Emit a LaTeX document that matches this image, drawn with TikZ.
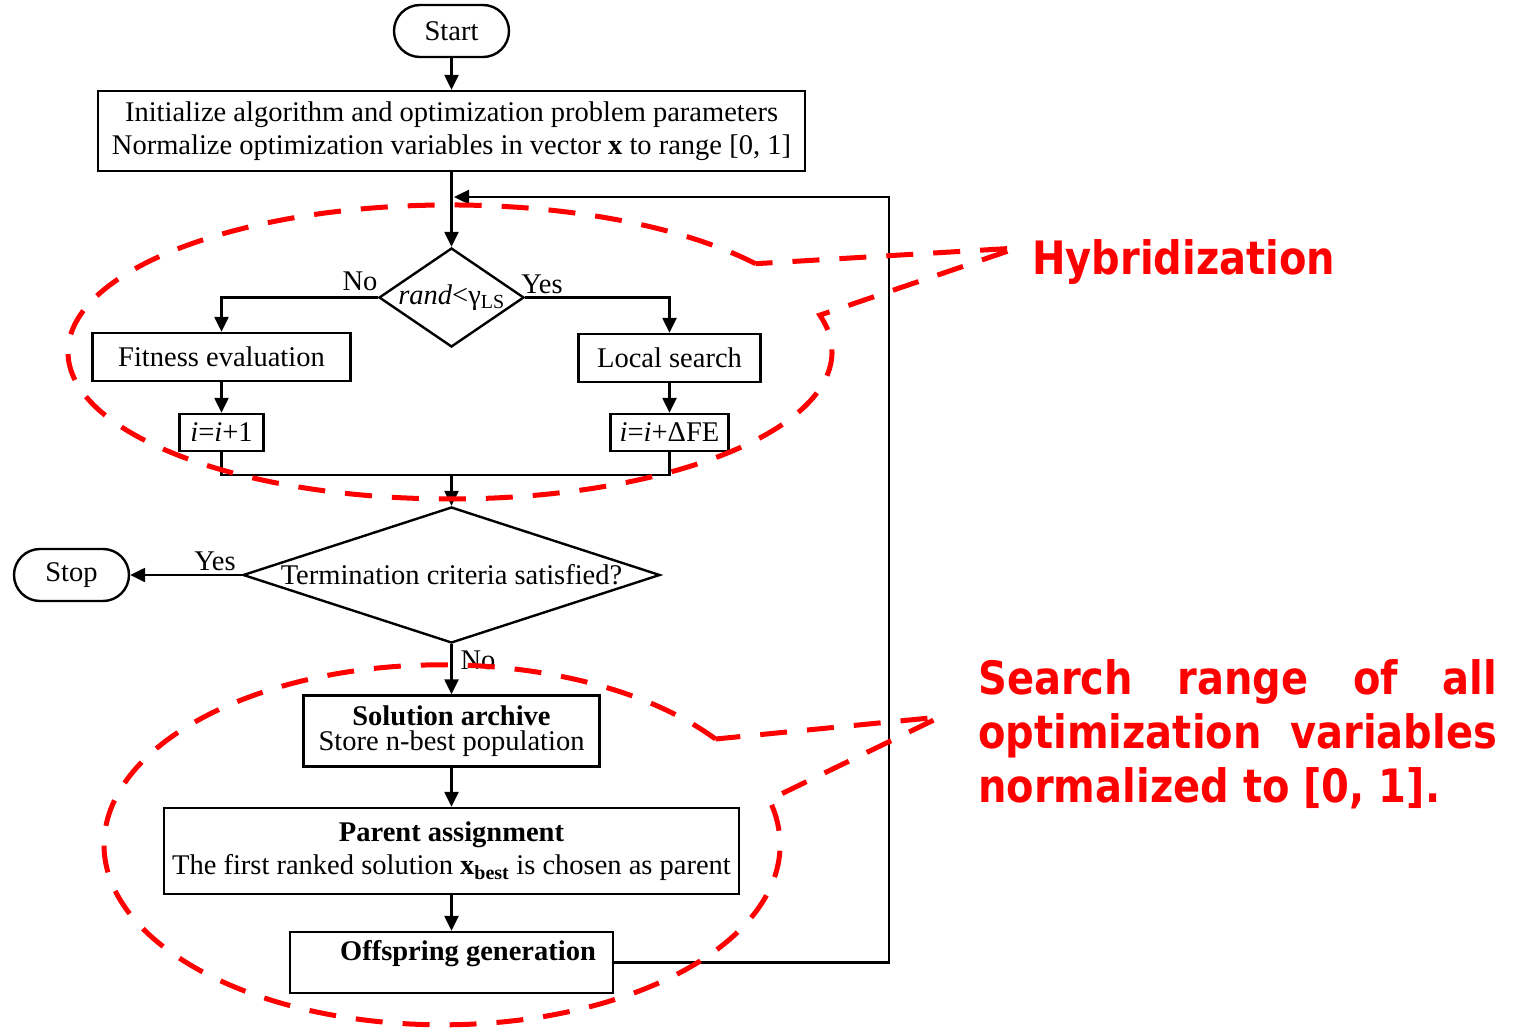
\documentclass[tikz,border=0pt]{standalone}
\usepackage{fontspec}
\setmainfont{Liberation Serif}
\newfontfamily\calloutfont{DejaVu Sans}[FakeStretch=0.87]
\usetikzlibrary{arrows.meta,shapes.geometric}
\begin{document}
\begin{tikzpicture}[x=1pt,y=-1pt,
  every node/.style={font=\fontsize{28.5}{33}\selectfont, inner sep=0pt},
  box/.style={draw, line width=2.4pt, rectangle, align=center},
  tight/.style={font=\fontsize{28.5}{25.5}\selectfont},
  pill/.style={draw, line width=2.4pt, rectangle, rounded corners=26pt,
    minimum width=115pt, minimum height=52pt},
  decision/.style={draw, line width=2.4pt, diamond},
  flow/.style={line width=2.4pt, -{Triangle[length=15pt,width=14pt]}},
  link/.style={line width=2.4pt},
  callout/.style={draw=red, line width=5pt, dash pattern=on 27pt off 20pt},
  redtext/.style={text=red, font=\calloutfont\bfseries\fontsize{46}{54}\selectfont}
]
\useasboundingbox (0,0) rectangle (1513,1030);

% main flow
\node[pill] (start) at (451.5,31) {Start};
\node[box, minimum width=707pt, minimum height=80pt] (init) at (451.5,131)
  {Initialize algorithm and optimization problem parameters\\
   Normalize optimization variables in vector \textbf{x} to range [0, 1]};
\node[decision, minimum width=145pt, minimum height=99pt,
  label=center:{\textit{rand}<γ\textsubscript{LS}}] (d1) at (451.5,297.5) {};
\node[box, minimum width=258pt, minimum height=48pt] (fit) at (221.5,357) {Fitness evaluation};
\node[box, minimum width=84pt, minimum height=37pt] (inc1) at (221.5,432.5) {\textit{i}=\textit{i}+1};
\node[box, minimum width=182pt, minimum height=48pt] (ls) at (669.5,358) {Local search};
\node[box, minimum width=118pt, minimum height=37pt] (inc2) at (669.5,432.5) {\textit{i}=\textit{i}+ΔFE};
\coordinate (merge) at (451.5,475);
\node[decision, minimum width=417pt, minimum height=136pt,
  label=center:{Termination criteria satisfied?}] (d2) at (451.5,575) {};
\node[pill] (stop) at (71.5,575) {Stop};
\node[box, tight, minimum width=296pt, minimum height=71pt] (arch) at (451.5,731)
  {\textbf{Solution archive}\\Store n-best population};
\node[box, minimum width=575pt, minimum height=86pt] (par) at (451.5,851)
  {\textbf{Parent assignment}\\The first ranked solution \textbf{x\textsubscript{best}} is chosen as parent};
\node[box, minimum width=323pt, minimum height=61pt,
  label={[xshift=16.5pt, yshift=9pt]center:{\textbf{Offspring generation}}}] (off) at (451.5,962.5) {};

% branch labels
\node (no1) at (360,281) {No};
\node (yes1) at (542,284) {Yes};
\node (yes2) at (215,561) {Yes};
\node (no2) at (478,660) {No};

% connectors
\coordinate (looptop) at (889,197);
\coordinate (join) at (454,197);
\draw[flow] (start) -- (init);
\draw[flow] (init) -- (d1);
\draw[flow] (off.east) -| (looptop) -- (join);
\draw[flow] (d1.west) -| (fit.north);
\draw[flow] (d1.east) -| (ls.north);
\draw[flow] (fit) -- (inc1);
\draw[flow] (ls) -- (inc2);
\draw[link] (inc1.south) |- (merge);
\draw[link] (inc2.south) |- (merge);
\draw[flow] (merge) -- (d2.north);
\draw[flow] (d2.west) -- (stop.east);
\draw[flow] (d2.south) -- (arch.north);
\draw[flow] (arch) -- (par);
\draw[flow] (par) -- (off);

% red callouts
\coordinate (hybtip) at (1017,248);
\draw[callout] (755.5,263.7) arc[start angle=36.9, end angle=374.5, x radius=382pt, y radius=147pt]
  -- (hybtip) -- cycle;
\coordinate (rangetip) at (940,717);
\draw[callout] (715.5,739) arc[start angle=36, end angle=374.5, x radius=338pt, y radius=180pt]
  -- (rangetip) -- cycle;

\node[redtext, anchor=base west] (hyb) at (1032,274) {Hybridization};
\node[redtext, anchor=base west] (s1) at (978,694) {\makebox[519pt][s]{Search range of all}};
\node[redtext, anchor=base west] (s2) at (978,748) {\makebox[519pt][s]{optimization variables}};
\node[redtext, anchor=base west] (s3) at (978,802) {normalized to [0, 1].};
\end{tikzpicture}
\end{document}
